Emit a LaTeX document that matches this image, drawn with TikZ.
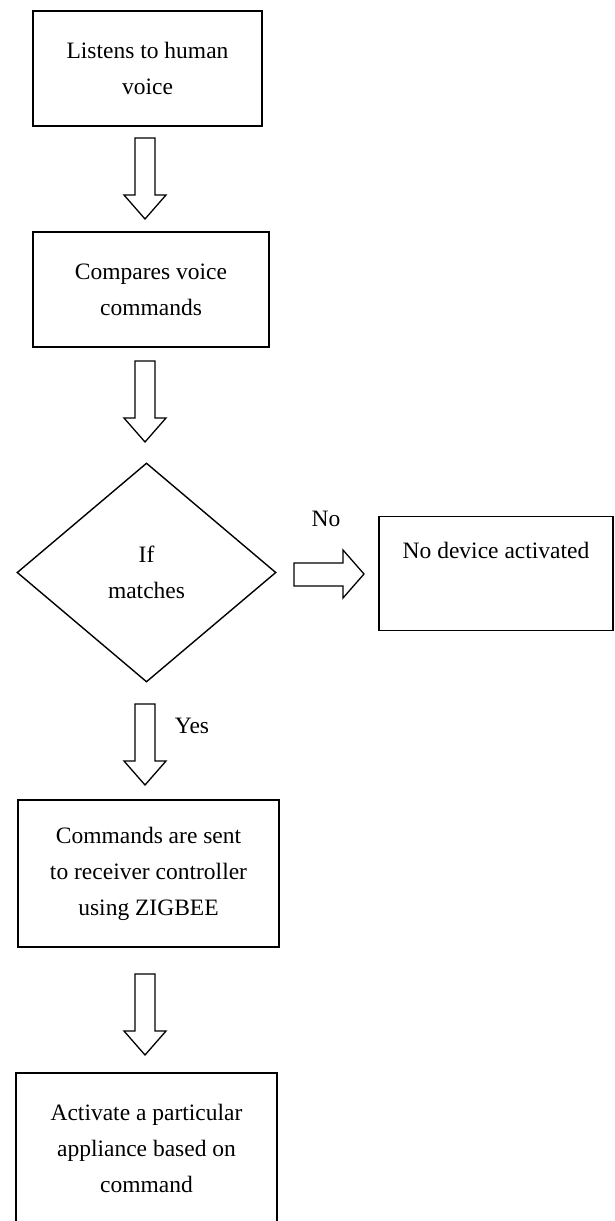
\documentclass[tikz,border=0pt]{standalone}
\usepackage{fontspec}
\setmainfont{Liberation Serif}
\usetikzlibrary{shapes.geometric}
\newcommand{\boxfont}{\fontsize{23.5}{36}\selectfont}
\tikzset{
	flowbox/.style={draw, line width=1.6pt, align=center, font=\boxfont, inner sep=0pt},
	blockline/.style={line width=1.3pt, line join=miter},
}
% hollow block arrow pointing down, (x,y) is the top middle of the shaft
\def\blockdown(#1,#2){\draw[blockline] (#1,#2) ++(-10,0) -- ++(20,0) -- ++(0,57) -- ++(11,0) -- ++(-21,24) -- ++(-21,-24) -- ++(11,0) -- cycle;}

\begin{document}
\begin{tikzpicture}[x=1pt, y=-1pt]
			%%%%% START %%%%%
			\useasboundingbox (0,0) rectangle (614,1221);
			
			\node[flowbox, minimum width=229pt, minimum height=115pt] (listen) at (147.5, 68.5) {Listens to human\\voice};
			\blockdown(145,138)
			
			\node[flowbox, minimum width=236pt, minimum height=115pt] (compare) at (151, 289.5) {Compares voice\\commands};
			\blockdown(145,361)
			
			\node[diamond, draw, line width=1.4pt, minimum width=259pt, minimum height=219pt, inner sep=0pt, align=center, font=\boxfont] (match) at (146.5, 572.5) {If\\matches};
			
			% no branch
			\draw[blockline] (294, 563) -- (343, 563) -- (343, 550) -- (364, 574) -- (343, 598) -- (343, 586) -- (294, 586) -- cycle;
			\node[font=\boxfont] (nolabel) at (326, 519) {No};
			\node[flowbox, minimum width=234pt, minimum height=114pt] (nodev) at (496, 573.5) {No device activated\\\strut};
			
			% yes branch
			\blockdown(145,704)
			\node[font=\boxfont] (yeslabel) at (192, 726) {Yes};
			
			\node[flowbox, minimum width=261pt, minimum height=147pt] (send) at (148.5, 873.5) {Commands are sent\\to receiver controller\\using ZIGBEE};
			\blockdown(145,974)
			
			\node[flowbox, minimum width=261pt, minimum height=150pt] (activate) at (146.5, 1148) {Activate a particular\\appliance based on\\command};
			
			%%%%% END %%%%%
\end{tikzpicture}
\end{document}
